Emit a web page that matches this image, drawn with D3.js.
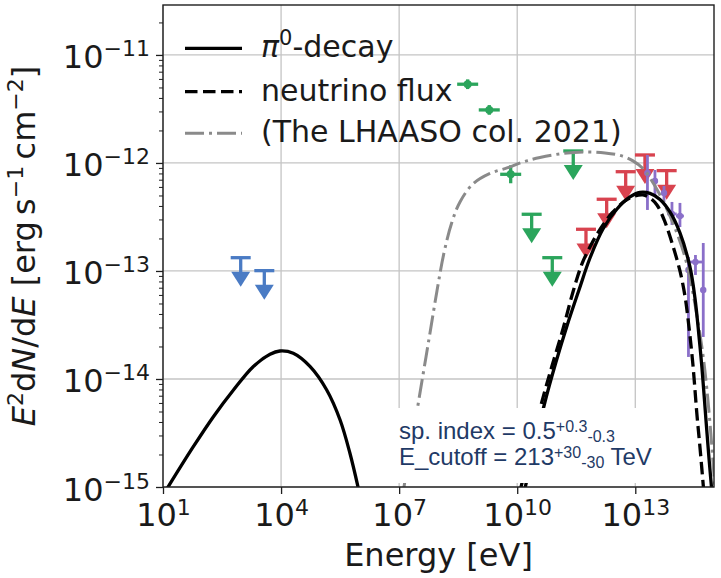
<!DOCTYPE html>
<html>
<head>
<meta charset="utf-8">
<script src="https://cdn.jsdelivr.net/npm/d3@7"></script>
<style>
  html, body { margin: 0; padding: 0; background: #fff; }
  svg { display: block; font-family: "DejaVu Sans", sans-serif; }
</style>
</head>
<body>
<svg id="chart" width="721" height="578"></svg>
<script>
// ---------- data: log10(E / eV) and log10(E^2 dN/dE / erg s^-1 cm^-2) ----------

// pi0-decay model, low-energy hump
const pi0LowLogE = [1.06, 1.77, 2.28, 2.79, 3.29, 3.72, 3.97, 4.31, 4.74, 5.16, 5.50, 5.75, 5.98];
const pi0LowLogF = [-15.04, -14.627, -14.349, -14.102, -13.886, -13.771, -13.741, -13.762, -13.886, -14.102, -14.38, -14.688, -15.04];

// pi0-decay model, TeV component
const pi0HighLogE = [10.18, 10.451, 10.705, 10.985, 11.264, 11.569, 11.849, 12.179, 12.535, 12.865, 13.119, 13.373,
                     13.627, 13.881, 14.135, 14.389, 14.516, 14.618, 14.694, 14.796, 14.872, 14.945];
const pi0HighLogF = [-15.04, -14.611, -14.213, -13.843, -13.509, -13.176, -12.88, -12.611, -12.426, -12.315, -12.273, -12.282,
                     -12.338, -12.454, -12.648, -12.963, -13.25, -13.602, -13.898, -14.38, -14.731, -15.04];

// neutrino flux
const nuLogE = [10.07, 10.324, 10.604, 10.883, 11.163, 11.417, 11.645, 11.874, 12.128, 12.408, 12.738, 12.992,
                13.195, 13.373, 13.551, 13.754, 13.957, 14.135, 14.262, 14.364, 14.465, 14.567, 14.643, 14.74];
const nuLogF = [-15.04, -14.657, -14.241, -13.88, -13.537, -13.194, -12.935, -12.759, -12.602, -12.463, -12.352, -12.306,
                -12.296, -12.324, -12.389, -12.546, -12.769, -13.0, -13.231, -13.519, -13.87, -14.333, -14.63, -15.04];

// LHAASO collaboration 2021 model
const lhaasoLogE = [7.10, 7.25, 7.402, 7.58, 7.784, 7.961, 8.139, 8.342, 8.546, 8.876, 9.308, 9.74, 10.146, 10.578,
                    11.163, 11.722, 12.23, 12.662, 12.941, 13.195, 13.5, 13.754, 14.008, 14.262, 14.44, 14.592,
                    14.72, 14.821, 14.923, 14.999, 15.05];
const lhaasoLogF = [-15.05, -14.722, -14.407, -14.019, -13.574, -13.185, -12.833, -12.546, -12.361, -12.194, -12.097,
                    -12.046, -11.991, -11.949, -11.912, -11.898, -11.907, -11.935, -11.981, -12.051, -12.213, -12.389,
                    -12.602, -12.87, -13.157, -13.472, -13.778, -14.102, -14.519, -14.889, -15.12];

// X-ray upper limits (blue)
const xrayUlLogE = [2.974, 3.574];
const xrayUlLogF = [-12.877, -12.997];

// GeV measurements (green points)
const gevLogE = [8.741, 9.29, 9.834];
const gevLogF = [-11.271, -11.509, -12.105];
const gevLogEErr = [0.267, 0.267, 0.267];
const gevLogFErr = [0.045, 0.045, 0.083];

// GeV upper limits (green)
const gevUlLogE = [10.367, 10.891, 11.424];
const gevUlLogF = [-12.475, -12.877, -11.889];

// TeV upper limits (red)
const tevUlLogE = [11.747, 12.273, 12.756, 13.246, 13.797];
const tevUlLogF = [-12.614, -12.336, -12.081, -11.926, -12.071];

// UHE measurements (purple)
const uheLogE = [13.309, 13.5, 13.729, 13.932, 14.135, 14.351, 14.529, 14.727];
const uheLogF = [-12.093, -12.167, -12.278, -12.472, -12.491, -12.991, -12.917, -13.176];
const uheLogFLo = [-12.435, -12.315, -12.361, -12.574, -12.593, -13.796, -13.037, -13.611];
const uheLogFHi = [-11.926, -12.065, -12.213, -12.361, -12.37, -12.87, -12.852, -12.741];
const uheLogEErr = [0.07, 0.07, 0.07, 0.12, 0.1, 0.03, 0.178, 0.07];

// axis ticks (exponents)
const xTickExp = [1, 4, 7, 10, 13];
const yTickExp = [-15, -14, -13, -12, -11];

// legend entries and fit annotation
const legendLabels = ["-decay", "neutrino flux", "(The LHAASO col. 2021)"];
const fitIndex = ["0.5", "+0.3", "-0.3"];
const fitCutoff = ["213", "+30", "-30"];

// ---------- layout ----------
const plot = { left: 163, right: 714, top: 5, bottom: 487 };
const x = d3.scaleLog().domain([1e1, 1e15]).range([plot.left, plot.right]);
const y = d3.scaleLog().domain([1e-15, 2.9e-11]).range([plot.bottom, plot.top]);
const pw = (v) => Math.pow(10, v);
const minus = (s) => String(s).replace("-", "\u2212");

const colors = {
  blue: "#4a7bc4", green: "#2ba55c", red: "#d8434f", purple: "#8a6fc9",
  grid: "#c4c4c4", axis: "#1e1e1e", text: "#1a1a1a", note: "#1f3a66", model: "#8a8a8a"
};
const LW = 3.3;

const svg = d3.select("#chart");

// clip region for the plotting area
svg.append("defs").append("clipPath").attr("id", "plotClip")
  .append("rect")
  .attr("x", plot.left).attr("y", plot.top)
  .attr("width", plot.right - plot.left).attr("height", plot.bottom - plot.top);

// ---------- grid ----------
const grid = svg.append("g");
grid.selectAll("line.gx").data(xTickExp).join("line")
  .attr("x1", d => x(pw(d))).attr("x2", d => x(pw(d)))
  .attr("y1", plot.top).attr("y2", plot.bottom)
  .attr("stroke", colors.grid).attr("stroke-width", 1.3);
grid.selectAll("line.gy").data(yTickExp).join("line")
  .attr("y1", d => y(pw(d))).attr("y2", d => y(pw(d)))
  .attr("x1", plot.left).attr("x2", plot.right)
  .attr("stroke", colors.grid).attr("stroke-width", 1.3);

// ---------- data points ----------
const marks = svg.append("g").attr("clip-path", "url(#plotClip)");

function upperLimits(logE, logF, color) {
  const g = marks.append("g").attr("fill", color).attr("stroke", color);
  logE.forEach((e, i) => {
    const cx = x(pw(e));
    const cy = y(pw(logF[i]));
    const ty = y(pw(logF[i] - 0.2));
    g.append("line").attr("x1", cx - 10).attr("x2", cx + 10).attr("y1", cy).attr("y2", cy)
      .attr("stroke-width", LW);
    g.append("line").attr("x1", cx).attr("x2", cx).attr("y1", cy).attr("y2", ty)
      .attr("stroke-width", LW);
    g.append("path").attr("stroke", "none")
      .attr("d", `M${cx - 9.5},${ty - 7.5}L${cx + 9.5},${ty - 7.5}L${cx},${ty + 7.5}Z`);
  });
}

upperLimits(xrayUlLogE, xrayUlLogF, colors.blue);
upperLimits(gevUlLogE, gevUlLogF, colors.green);
upperLimits(tevUlLogE, tevUlLogF, colors.red);

// green measured points
const gev = marks.append("g").attr("stroke", colors.green).attr("fill", colors.green);
gevLogE.forEach((e, i) => {
  const cx = x(pw(e)), cy = y(pw(gevLogF[i]));
  gev.append("line")
    .attr("x1", x(pw(e - gevLogEErr[i]))).attr("x2", x(pw(e + gevLogEErr[i])))
    .attr("y1", cy).attr("y2", cy).attr("stroke-width", LW);
  gev.append("line")
    .attr("x1", cx).attr("x2", cx)
    .attr("y1", y(pw(gevLogF[i] - gevLogFErr[i]))).attr("y2", y(pw(gevLogF[i] + gevLogFErr[i])))
    .attr("stroke-width", LW);
  gev.append("circle").attr("cx", cx).attr("cy", cy).attr("r", 4).attr("stroke", "none");
});

// purple measured points
const uhe = marks.append("g").attr("stroke", colors.purple).attr("fill", colors.purple);
uheLogE.forEach((e, i) => {
  const cx = x(pw(e)), cy = y(pw(uheLogF[i]));
  uhe.append("line")
    .attr("x1", x(pw(e - uheLogEErr[i]))).attr("x2", x(pw(e + uheLogEErr[i])))
    .attr("y1", cy).attr("y2", cy).attr("stroke-width", 2.8);
  uhe.append("line")
    .attr("x1", cx).attr("x2", cx)
    .attr("y1", y(pw(uheLogFLo[i]))).attr("y2", y(pw(uheLogFHi[i])))
    .attr("stroke-width", 2.8);
  uhe.append("circle").attr("cx", cx).attr("cy", cy).attr("r", 3.2).attr("stroke", "none");
});

// ---------- model curves ----------
const curves = svg.append("g").attr("clip-path", "url(#plotClip)").attr("fill", "none");
const line = d3.line().x(d => x(pw(d[0]))).y(d => y(pw(d[1]))).curve(d3.curveCatmullRom.alpha(0.5));
const zip = (a, b) => a.map((v, i) => [v, b[i]]);

curves.append("path").datum(zip(lhaasoLogE, lhaasoLogF)).attr("d", line)
  .attr("stroke", colors.model).attr("stroke-width", 3).attr("stroke-dasharray", "19,5,3,5");
curves.append("path").datum(zip(nuLogE, nuLogF)).attr("d", line)
  .attr("stroke", "#000").attr("stroke-width", LW).attr("stroke-dasharray", "12.5,5.5");
curves.append("path").datum(zip(pi0HighLogE, pi0HighLogF)).attr("d", line)
  .attr("stroke", "#000").attr("stroke-width", LW);
curves.append("path").datum(zip(pi0LowLogE, pi0LowLogF)).attr("d", line)
  .attr("stroke", "#000").attr("stroke-width", LW);

// ---------- axes ----------
const xAxis = d3.axisBottom(x).tickValues(xTickExp.map(pw)).tickSize(7).tickFormat(() => "");
const gx = svg.append("g").attr("transform", `translate(0,${plot.bottom})`).call(xAxis);
gx.select(".domain").remove();
gx.selectAll(".tick line").attr("stroke", colors.axis).attr("stroke-width", 1.3);
gx.selectAll(".tick text").each(function (d) {
  const t = d3.select(this).text(null)
    .attr("y", 39).attr("dy", null)
    .attr("font-size", 32).attr("font-family", "DejaVu Sans").attr("fill", colors.text)
    .attr("text-anchor", "middle");
  t.append("tspan").text("10");
  t.append("tspan").attr("font-size", 22).attr("dy", -11).text(minus(Math.round(Math.log10(d))));
});

const yAxis = d3.axisLeft(y).tickValues(yTickExp.map(pw)).tickSize(7).tickFormat(() => "");
const gy = svg.append("g").attr("transform", `translate(${plot.left},0)`).call(yAxis);
gy.select(".domain").remove();
gy.selectAll(".tick line").attr("stroke", colors.axis).attr("stroke-width", 1.3);
gy.selectAll(".tick text").each(function (d) {
  const t = d3.select(this).text(null)
    .attr("x", -13).attr("y", 13).attr("dy", null)
    .attr("font-size", 32).attr("font-family", "DejaVu Sans").attr("fill", colors.text)
    .attr("text-anchor", "end");
  t.append("tspan").text("10");
  t.append("tspan").attr("font-size", 22).attr("dy", -12).text(minus(Math.round(Math.log10(d))));
});

// minor y ticks
const yMinor = [];
yTickExp.forEach(e => { for (let m = 2; m <= 9; m++) { const v = m * pw(e); if (v <= y.domain()[1]) yMinor.push(v); } });
const gym = svg.append("g").attr("transform", `translate(${plot.left},0)`)
  .call(d3.axisLeft(y).tickValues(yMinor).tickSize(4).tickFormat(() => ""));
gym.select(".domain").remove();
gym.selectAll(".tick line").attr("stroke", colors.axis).attr("stroke-width", 1);

// frame
svg.append("rect")
  .attr("x", plot.left).attr("y", plot.top)
  .attr("width", plot.right - plot.left).attr("height", plot.bottom - plot.top)
  .attr("fill", "none").attr("stroke", colors.axis).attr("stroke-width", 1.4);

// axis titles
svg.append("text")
  .attr("x", (plot.left + plot.right) / 2).attr("y", 566)
  .attr("text-anchor", "middle").attr("font-size", 32).attr("fill", colors.text)
  .text("Energy [eV]");

const yl = svg.append("text")
  .attr("transform", `translate(35,${(plot.top + plot.bottom) / 2}) rotate(-90)`)
  .attr("text-anchor", "middle").attr("font-size", 32).attr("fill", colors.text);
yl.append("tspan").attr("font-style", "italic").text("E");
yl.append("tspan").attr("font-size", 22).attr("dy", -12).text("2");
yl.append("tspan").attr("dy", 12).text("d");
yl.append("tspan").attr("font-style", "italic").text("N");
yl.append("tspan").text("/d");
yl.append("tspan").attr("font-style", "italic").text("E");
yl.append("tspan").text(" [erg\u2009s");
yl.append("tspan").attr("font-size", 22).attr("dy", -12).text("\u22121");
yl.append("tspan").attr("dy", 12).text("\u2009cm");
yl.append("tspan").attr("font-size", 22).attr("dy", -12).text("\u22122");
yl.append("tspan").attr("dy", 12).text("]");

// ---------- legend ----------
const legend = svg.append("g").attr("font-size", 30).attr("fill", colors.text);
const legendRows = [
  { y: 48.3, stroke: "#000", dash: null, w: LW },
  { y: 91.7, stroke: "#000", dash: "12.5,5.5", w: LW },
  { y: 133.3, stroke: colors.model, dash: "19,5,3,5", w: 3 }
];
legendRows.forEach((r, i) => {
  legend.append("line")
    .attr("x1", 185).attr("x2", 242).attr("y1", r.y).attr("y2", r.y)
    .attr("stroke", r.stroke).attr("stroke-width", r.w)
    .attr("stroke-dasharray", r.dash);
  const t = legend.append("text").attr("x", 261).attr("y", r.y + 9);
  if (i === 0) {
    t.append("tspan").attr("font-style", "italic").text("\u03c0");
    t.append("tspan").attr("font-size", 21).attr("dy", -12).text("0");
    t.append("tspan").attr("dy", 12).text(legendLabels[0]);
  } else {
    t.text(legendLabels[i]);
  }
});

// ---------- fit annotation ----------
const note = svg.append("g");
note.append("rect").attr("x", 380).attr("y", 408).attr("width", 310).attr("height", 75).attr("fill", "#fff");
const noteText = note.append("text")
  .attr("font-family", "Liberation Sans, Arial, sans-serif")
  .attr("font-size", 24).attr("fill", colors.note);
const l1 = noteText.append("tspan").attr("x", 399).attr("y", 438.5);
l1.append("tspan").text("sp. index = " + fitIndex[0]);
l1.append("tspan").attr("font-size", 16).attr("dy", -7).text(fitIndex[1]);
l1.append("tspan").attr("font-size", 16).attr("dy", 10).text(fitIndex[2]);
const l2 = noteText.append("tspan").attr("x", 399).attr("y", 464.5);
l2.append("tspan").text("E_cutoff = " + fitCutoff[0]);
l2.append("tspan").attr("font-size", 16).attr("dy", -7).text(fitCutoff[1]);
l2.append("tspan").attr("font-size", 16).attr("dy", 10).text(fitCutoff[2]);
l2.append("tspan").attr("dy", -3).text(" TeV");
</script>
</body>
</html>
